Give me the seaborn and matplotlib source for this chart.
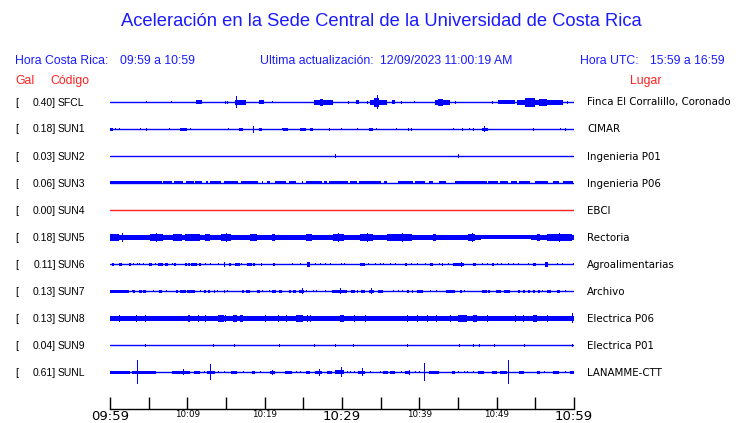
import numpy as np
import pandas as pd
import matplotlib
matplotlib.use("Agg")
import matplotlib.pyplot as plt
import seaborn as sns

# stations, peak acceleration (Gal) and place names
codes = ["SFCL", "SUN1", "SUN2", "SUN3", "SUN4", "SUN5", "SUN6", "SUN7", "SUN8", "SUN9", "SUNL"]
gal = [0.40, 0.18, 0.03, 0.06, 0.00, 0.18, 0.11, 0.13, 0.13, 0.04, 0.61]
places = ["Finca El Corralillo, Coronado", "CIMAR", "Ingenieria P01", "Ingenieria P06", "EBCI",
          "Rectoria", "Agroalimentarias", "Archivo", "Electrica P06", "Electrica P01", "LANAMME-CTT"]

# bursts: (start min, end min, half amplitude px), minutes after 09:59
sfcl = [(4.66, 4.66, 1), (7.9, 7.9, 1), (11.1, 11.9, 2), (14.9, 14.9, 1.5), (15.1, 15.1, 1.5),
        (16.2, 17.6, 2.5), (16.3, 16.4, 6), (19.3, 19.9, 2), (20.9, 20.9, 1), (26.4, 28.8, 2.5),
        (27.1, 27.6, 3.5), (30.8, 30.8, 1.5), (31.8, 32.2, 2), (33.2, 33.2, 1.5), (33.6, 35.8, 2.5),
        (34.2, 34.8, 4.5), (34.5, 34.6, 7), (36.5, 36.9, 2), (37.6, 37.6, 1.5), (39.3, 39.3, 1),
        (42.0, 44.0, 2.5), (42.4, 43.0, 3.5), (44.6, 44.6, 1.5), (49.4, 49.5, 1.5), (50.2, 52.4, 2),
        (52.6, 58.6, 2.5), (53.7, 55.0, 4.5), (55.5, 56.5, 3.5), (59.1, 59.1, 1.5)]
sun1 = [(0, 0.4, 1.5), (0.65, 0.65, 1), (1.16, 1.16, 1), (3.88, 3.88, 1), (4.66, 4.8, 1.5),
        (7.63, 7.63, 1), (9.05, 9.96, 1.5), (10.3, 10.3, 1), (15.3, 15.3, 1), (16.7, 17.2, 1.5),
        (18.5, 18.5, 3.5), (19.3, 19.7, 1.5), (22.2, 22.2, 1), (22.4, 23.0, 1.5), (24.6, 25.3, 1.5),
        (25.9, 26.3, 1.5), (28.3, 28.3, 1.5), (29.9, 29.9, 1), (31.9, 31.9, 1), (33.5, 34.0, 1.5),
        (34.4, 34.4, 1), (37.0, 37.0, 1), (38.5, 38.5, 1.5), (38.9, 38.9, 1.5), (44.4, 44.4, 1),
        (45.5, 45.5, 1.5), (46.4, 46.4, 1), (46.9, 46.9, 1.5), (48.1, 48.9, 1.5), (48.4, 48.5, 3),
        (54.7, 54.8, 1.5), (58.2, 58.2, 1), (58.8, 58.8, 1.5)]
sun2 = [(29.1, 29.1, 2), (45.0, 45.0, 2)]
sun3 = [(0, 6.68, 1.5), (6.9, 8.0, 1.5), (8.3, 9.5, 1.5), (9.8, 10.8, 1.5), (11.0, 11.9, 1.5),
        (12.4, 12.7, 1.5), (12.9, 14.4, 1.5), (14.7, 16.6, 1.5), (17.0, 19.2, 1.5), (19.6, 19.8, 1.5),
        (20.3, 20.7, 1.5), (21.3, 22.8, 1.5), (23.1, 24.1, 1.5), (24.8, 25.0, 1.5), (25.4, 27.4, 1.5),
        (27.7, 28.0, 1.5), (28.3, 30.8, 1.5), (31.0, 31.9, 1.5), (32.2, 35.1, 1.5), (35.4, 35.8, 1.5),
        (37.2, 39.2, 1.5), (39.5, 40.7, 1.5), (41.2, 41.8, 1.5), (42.5, 43.5, 1.5), (44.6, 48.7, 1.5),
        (48.9, 50.2, 1.5), (50.4, 51.5, 1.5), (51.9, 52.6, 1.5), (52.9, 54.3, 1.5), (55.0, 56.7, 1.5),
        (57.3, 58.0, 1.5), (58.6, 59.9, 1.5)]
sun4 = []
sun5 = [(0, 48, 2.5), (48, 54.5, 1.8), (54.5, 60, 2.5),
        (0, 1.1, 3.5), (5.2, 6.9, 3.5), (8.2, 9.3, 3.5), (9.7, 11.6, 3.5), (12.3, 12.9, 3.5),
        (14.4, 15.7, 3.5), (18.1, 19.0, 3.5), (20.9, 21.3, 3.5), (25.4, 26.1, 3.5), (28.9, 30.2, 3.5),
        (32.3, 34.0, 3.5), (35.8, 39.0, 3.5), (41.8, 42.2, 3.5), (46.3, 47.2, 3.5), (55.2, 55.6, 3.5),
        (56.5, 59.8, 3.5), (1.5, 1.6, 4.5), (6.0, 6.1, 4.5), (15.0, 15.1, 4.5), (29.5, 29.6, 4.5),
        (33.2, 33.3, 4.5), (37.8, 37.9, 4.5), (46.8, 46.9, 4.5), (58.1, 58.2, 4.5)]
sun6 = [(0.2, 0.5, 1.5), (1.1, 1.6, 1.5), (2.4, 2.7, 1.5), (3.0, 3.0, 1), (3.5, 3.5, 1), (3.8, 3.8, 1),
        (4.3, 4.3, 1), (5.1, 5.4, 1.5), (5.8, 5.8, 1), (6.2, 6.8, 1.5), (7.1, 7.5, 1.5), (8.0, 8.0, 1),
        (8.3, 8.5, 1.5), (9.7, 9.9, 1.5), (10.1, 10.3, 1.5), (10.5, 11.2, 1.5), (11.5, 11.8, 1.5),
        (12.3, 12.3, 1), (12.9, 12.9, 1), (14.0, 14.0, 1), (14.7, 14.8, 2.5), (15.4, 15.7, 1.5),
        (16.2, 16.8, 1.5), (17.0, 17.0, 1), (17.7, 18.3, 1.5), (18.5, 18.7, 1.5), (19.5, 19.7, 1.5),
        (21.1, 21.3, 1.5), (23.5, 23.5, 1), (24.6, 24.6, 1), (25.5, 25.9, 2.5), (26.5, 26.5, 1),
        (27.2, 27.2, 1), (27.8, 27.8, 1), (28.4, 28.4, 1), (29.9, 29.9, 1), (30.2, 30.2, 1),
        (32.3, 33.0, 1.5), (33.4, 33.4, 1), (34.3, 34.3, 1), (34.9, 34.9, 1), (35.3, 35.3, 1),
        (36.2, 36.2, 1), (36.9, 36.9, 1), (38.1, 38.4, 1.5), (38.9, 38.9, 1), (39.7, 39.7, 1),
        (40.7, 40.7, 1), (41.4, 41.8, 1.5), (42.5, 42.5, 1), (42.9, 43.1, 1.5), (43.7, 43.7, 1),
        (44.3, 45.8, 1.5), (45.4, 45.5, 2.5), (47.0, 47.3, 1.5), (48.1, 48.1, 1), (48.7, 48.7, 1),
        (49.4, 49.7, 1.5), (50.0, 50.0, 1), (50.6, 50.6, 1), (51.5, 51.5, 1), (52.1, 52.1, 1),
        (52.7, 52.7, 1), (54.1, 54.1, 1), (54.7, 55.1, 1.5), (56.2, 56.7, 2.5), (57.8, 57.8, 1),
        (58.4, 58.4, 1), (59.9, 59.9, 1)]
sun7 = [(0, 2.4, 1.5), (2.8, 2.8, 1), (3.0, 3.2, 1.5), (3.8, 4.1, 1.5), (4.3, 4.7, 1.5), (5.6, 5.6, 1),
        (6.4, 6.7, 1.5), (7.3, 7.3, 1), (8.5, 8.8, 1.5), (9.1, 9.8, 1.5), (10.0, 10.3, 1.5),
        (10.4, 11.0, 1.5), (11.6, 11.6, 1), (12.2, 12.4, 1.5), (12.7, 12.9, 1.5), (13.4, 13.6, 1.5),
        (13.9, 13.9, 1), (14.7, 14.9, 1.5), (15.1, 15.1, 1), (17.1, 17.3, 1.5), (17.6, 18.1, 1.5),
        (19.0, 19.4, 1.5), (19.7, 19.7, 1), (20.6, 20.6, 1), (21.0, 21.5, 1.5), (21.9, 22.3, 1.5),
        (23.1, 23.4, 1.5), (23.6, 24.1, 1.5), (24.4, 25.1, 1.5), (24.8, 24.9, 3), (25.4, 25.4, 1),
        (26.3, 26.3, 1), (26.7, 26.7, 1), (27.8, 27.8, 1), (28.7, 30.6, 1.5), (29.7, 29.8, 3),
        (31.2, 31.7, 1.5), (31.9, 32.1, 1.5), (32.4, 33.0, 1.5), (33.5, 34.2, 1.5), (33.8, 33.9, 3),
        (34.7, 35.3, 1.5), (36.6, 36.6, 1), (37.3, 37.3, 1), (37.7, 37.7, 1), (38.4, 38.6, 1.5),
        (39.0, 39.2, 1.5), (39.7, 40.5, 1.5), (41.4, 41.4, 1), (42.2, 42.2, 1), (43.5, 44.6, 1.5),
        (45.3, 45.5, 1.5), (45.8, 45.8, 1), (48.1, 48.7, 1.5), (48.9, 49.2, 1.5), (49.9, 50.5, 1.5),
        (50.9, 51.7, 1.5), (52.7, 53.0, 1.5), (53.4, 53.7, 1.5), (54.0, 54.3, 1.5), (54.7, 55.0, 1.5),
        (55.3, 55.6, 1.5), (55.8, 55.8, 1), (56.5, 57.0, 1.5), (57.8, 58.2, 1.5), (58.8, 58.8, 1)]
sun8 = [(0, 60, 2.5), (1.2, 1.2, 3.5), (3.4, 3.4, 3.5), (4.5, 4.5, 3.5), (10.1, 10.4, 3.5),
        (11.4, 11.4, 3.5), (12.3, 12.3, 3.5), (14.0, 14.7, 3.5), (14.9, 14.9, 3.5), (15.9, 16.4, 3.5),
        (16.8, 17.2, 3.5), (20.0, 20.0, 3.5), (21.7, 21.7, 3.5), (22.8, 22.8, 3.5), (24.1, 25.0, 3.5),
        (25.5, 25.5, 3.5), (25.9, 25.9, 3.5), (29.7, 30.2, 3.5), (31.5, 31.5, 3.5), (33.0, 33.0, 3.5),
        (38.4, 38.4, 3.5), (39.7, 39.7, 3.5), (41.0, 41.0, 3.5), (42.2, 42.2, 3.5), (44.0, 44.0, 3.5),
        (45.0, 46.1, 3.5), (47.0, 47.4, 3.5), (48.7, 48.7, 3.5), (52.4, 52.4, 3.5), (53.4, 53.4, 3.5),
        (54.7, 55.2, 3.5), (56.5, 56.5, 3.5), (59.7, 59.7, 5)]
sun9 = [(4.5, 4.5, 1.5), (13.3, 13.4, 1.5), (16.0, 16.0, 1.5), (21.9, 21.9, 1.5), (26.4, 26.4, 1.5),
        (29.1, 29.1, 1.5), (31.4, 31.4, 1.5), (38.4, 38.4, 1.5), (45.1, 45.1, 1.5), (47.0, 47.0, 1.5),
        (47.7, 47.7, 1.5), (49.7, 49.7, 1.5), (53.5, 53.5, 1.5), (59.7, 59.7, 1.5)]
sunl = [(0, 2.6, 1.5), (2.8, 6.0, 1.5), (3.5, 3.6, 12), (8.0, 10.3, 1.5), (9.5, 9.6, 3), (10.8, 11.6, 1.5),
        (12.1, 12.1, 1), (12.5, 13.6, 1.5), (12.9, 13.0, 8), (14.0, 14.0, 1), (14.7, 14.7, 1),
        (15.7, 16.4, 1.5), (17.2, 17.2, 1), (18.3, 18.7, 1.5), (19.4, 19.4, 1), (20.7, 21.3, 1.5),
        (21.0, 21.1, 2.5), (22.6, 23.5, 1.5), (24.1, 24.1, 1), (24.6, 24.6, 1), (25.4, 25.8, 1.5),
        (26.5, 27.4, 1.5), (27.0, 27.1, 3.5), (28.0, 28.7, 1.5), (29.1, 30.2, 2), (29.9, 30.0, 5),
        (30.6, 30.6, 1), (31.0, 31.0, 1), (31.5, 31.5, 1), (32.1, 33.0, 1.5), (32.6, 32.7, 4),
        (33.6, 33.6, 1), (34.9, 34.9, 1), (35.3, 36.0, 1.5), (36.2, 36.9, 1.5), (37.6, 37.6, 1),
        (38.1, 38.8, 1.5), (38.6, 38.7, 2.5), (39.4, 39.4, 1), (39.9, 39.9, 1), (40.6, 40.7, 9),
        (41.3, 42.5, 1.5), (44.2, 44.6, 1.5), (45.0, 45.0, 1), (45.8, 45.8, 1), (46.2, 46.2, 1),
        (46.9, 46.9, 1), (47.6, 48.3, 1.5), (49.4, 50.0, 1.5), (50.4, 51.3, 1.5), (51.5, 51.6, 12),
        (52.9, 53.5, 1.5), (55.2, 55.6, 1.5), (56.1, 56.1, 1), (57.3, 58.0, 1.5), (58.8, 58.8, 1),
        (59.5, 60, 1.5)]
bursts = [sfcl, sun1, sun2, sun3, sun4, sun5, sun6, sun7, sun8, sun9, sunl]

tick_minutes = list(range(0, 61, 5))
tick_labels = ["09:59", "", "10:09", "", "10:19", "", "10:29", "", "10:39", "", "10:49", "", "10:59"]

BLUE = "#0000ff"
TBLUE = "#1a1aff"
RED = "#ff2020"
W, H = 740, 423

sns.set_theme(style="white")
plt.rcParams["font.family"] = ["Liberation Sans", "DejaVu Sans"]

fig = plt.figure(figsize=(W / 100, H / 100), dpi=100)
fig.patch.set_facecolor("white")

top, bottom = 88, 409
ax = fig.add_axes([110 / W, (H - bottom) / H, 464 / W, (bottom - top) / H])
ax.set_xlim(0, 60)
ax.set_ylim(bottom, top)

rows = [102 + 27 * i for i in range(len(codes))]

base = pd.DataFrame({
    "t": [0, 60] * len(codes),
    "y": [r for r in rows for _ in range(2)],
    "code": [c for c in codes for _ in range(2)],
})
pal = {c: (RED if c == "SUN4" else BLUE) for c in codes}
sns.lineplot(data=base, x="t", y="y", hue="code", units="code", estimator=None,
             palette=pal, linewidth=1.0, legend=False, ax=ax)

for r, ev in zip(rows, bursts):
    for s, e, a in ev:
        w = max(e - s, 0.13)
        ax.bar(s, 2 * a, width=w, bottom=r - a, align="edge", color=BLUE, linewidth=0)

ax.set_xlabel("")
ax.set_ylabel("")
ax.set_yticks([])
ax.set_xticks(tick_minutes)
ax.set_xticklabels(tick_labels, family="DejaVu Sans")
for lab, txt in zip(ax.get_xticklabels(), tick_labels):
    lab.set_fontsize(9.5 if txt in ("09:59", "10:29", "10:59") else 6.3)
ax.tick_params(axis="x", bottom=True, direction="in", length=9, width=1, color="black",
               pad=0.5, labelcolor="black")
sns.despine(ax=ax, left=True, top=True, right=True)
ax.spines["bottom"].set_color("black")
ax.spines["bottom"].set_linewidth(1)
ax.set_facecolor("none")


def put(x, y, s, **kw):
    fig.text(x / W, 1 - y / H, s, va="center", **kw)


put(381, 22, "Aceleración en la Sede Central de la Universidad de Costa Rica", ha="center",
    fontsize=13.2, color=TBLUE)
put(15, 61, "Hora Costa Rica:", fontsize=8.8, color=TBLUE)
put(120, 61, "09:59 a 10:59", fontsize=8.8, color=TBLUE)
put(260, 61, "Ultima actualización:", fontsize=8.8, color=TBLUE)
put(380, 61, "12/09/2023 11:00:19 AM", fontsize=8.8, color=TBLUE)
put(580, 61, "Hora UTC:", fontsize=8.8, color=TBLUE)
put(650, 61, "15:59 a 16:59", fontsize=8.8, color=TBLUE)
put(15, 81, "Gal", fontsize=8.8, color=RED)
put(50, 81, "Código", fontsize=8.8, color=RED)
put(630, 81, "Lugar", fontsize=8.8, color=RED)

for r, c, g, p in zip(rows, codes, gal, places):
    put(15, r + 0.5, "[", fontsize=7.5, color="black")
    put(56, r + 0.5, f"{g:.2f}]", fontsize=7.5, color="black", ha="right")
    put(58, r + 0.5, c, fontsize=7.5, color="black")
    put(587, r + 0.5, p, fontsize=7.4, color="black", family="DejaVu Sans")

fig.savefig("out.png", dpi=100, facecolor="white")
